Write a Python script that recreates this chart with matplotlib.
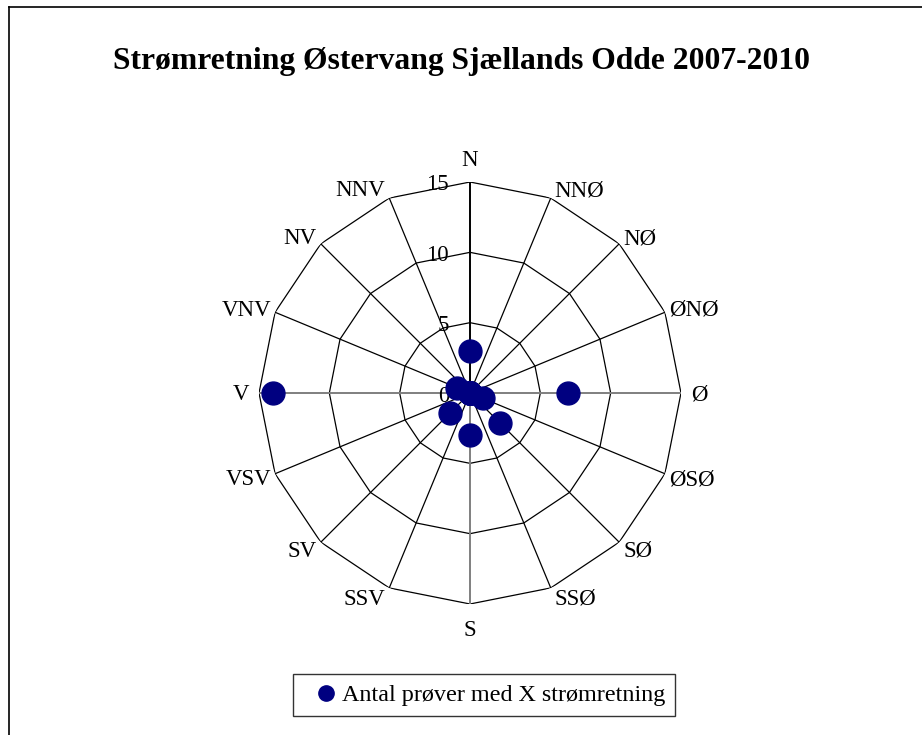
import numpy as np
import matplotlib
matplotlib.use("Agg")
import matplotlib.pyplot as plt
from matplotlib.lines import Line2D

directions = ["N", "NNØ", "NØ", "ØNØ", "Ø", "ØSØ", "SØ", "SSØ",
              "S", "SSV", "SV", "VSV", "V", "VNV", "NV", "NNV"]
counts = [3, 0, 0, 0, 7, 1, 3, 0, 3, 0, 2, 0, 14, 1, 0, 0]
ring_values = [0, 5, 10, 15]
title = "Strømretning Østervang Sjællands Odde 2007-2010"
series_name = "Antal prøver med X strømretning"

plt.rcParams['font.family'] = ['Liberation Serif', 'DejaVu Serif']

W, H = 922, 735
fig = plt.figure(figsize=(W / 100, H / 100), dpi=100)

cx, cy, R = 470, 393, 211
ax = fig.add_axes([(cx - R) / W, (H - cy - R) / H, 2 * R / W, 2 * R / H],
                  projection='polar')
ax.set_theta_zero_location('N')
ax.set_theta_direction(-1)
ax.set_ylim(0, 15)
ax.grid(False)
ax.set_xticks([])
ax.set_yticks([])
ax.spines['polar'].set_visible(False)
ax.patch.set_alpha(0)

n = len(directions)
theta = np.arange(n) * 2 * np.pi / n
rmax = ring_values[-1]

# polygon rings
tclosed = np.append(theta, theta[0])
for rv in ring_values[1:]:
    ax.plot(tclosed, [rv] * (n + 1), color='black', lw=0.9, zorder=1)

# spokes
for i, t in enumerate(theta):
    if i % 4 == 0:
        col, lw = ('black' if i == 0 else '#7f7f7f'), 1.4
    else:
        col, lw = 'black', 0.9
    ax.plot([t, t], [0, rmax], color=col, lw=lw, zorder=1)

# ring value labels
for rv in ring_values:
    ax.annotate(str(rv), xy=(0, rv), xytext=(-21, -3), textcoords='offset pixels',
                ha='right', va='center', fontsize=16.5, zorder=3)

# direction labels (Excel-style placement outside the vertices)
for t, lab in zip(theta, directions):
    s, c = np.sin(t), np.cos(t)
    if abs(s) < 1e-6:
        ha = 'center'
        dx = 0
        dy = 22 if c > 0 else -26
    else:
        ha = 'left' if s > 0 else 'right'
        gap = 10 if abs(c) < 1e-6 else 4
        dx = gap if s > 0 else -gap
        dy = 10 * c - 2
    ax.annotate(lab, xy=(t, rmax), xytext=(dx, dy), textcoords='offset pixels',
                ha=ha, va='center', fontsize=16.5, zorder=3,
                annotation_clip=False)

# data points
ax.plot(theta, counts, linestyle='none', marker='o', markersize=16.5,
        color='#000080', zorder=5, label=series_name, clip_on=False)

fig.text(0.5, 1 - 62 / H, title, ha='center', va='center',
         fontsize=22.8, fontweight='bold')

leg = fig.legend(handles=[Line2D([], [], linestyle='none', marker='o',
                                 markersize=11, color='#000080')],
                 labels=[series_name], loc='center',
                 bbox_to_anchor=(484 / W, 1 - 695 / H), fontsize=17.4,
                 frameon=True, fancybox=False, edgecolor='black',
                 handletextpad=-0.3, handlelength=1.9, borderpad=0.4,
                 borderaxespad=0)
leg.get_frame().set_linewidth(1.0)

# outer chart border (left and top visible)
fig.add_artist(Line2D([9 / W, 9 / W], [0, 1 - 7 / H], color='black', lw=1.2,
                      transform=fig.transFigure))
fig.add_artist(Line2D([9 / W, 1], [1 - 7 / H, 1 - 7 / H], color='black', lw=1.2,
                      transform=fig.transFigure))

fig.savefig('out.png', dpi=100)
